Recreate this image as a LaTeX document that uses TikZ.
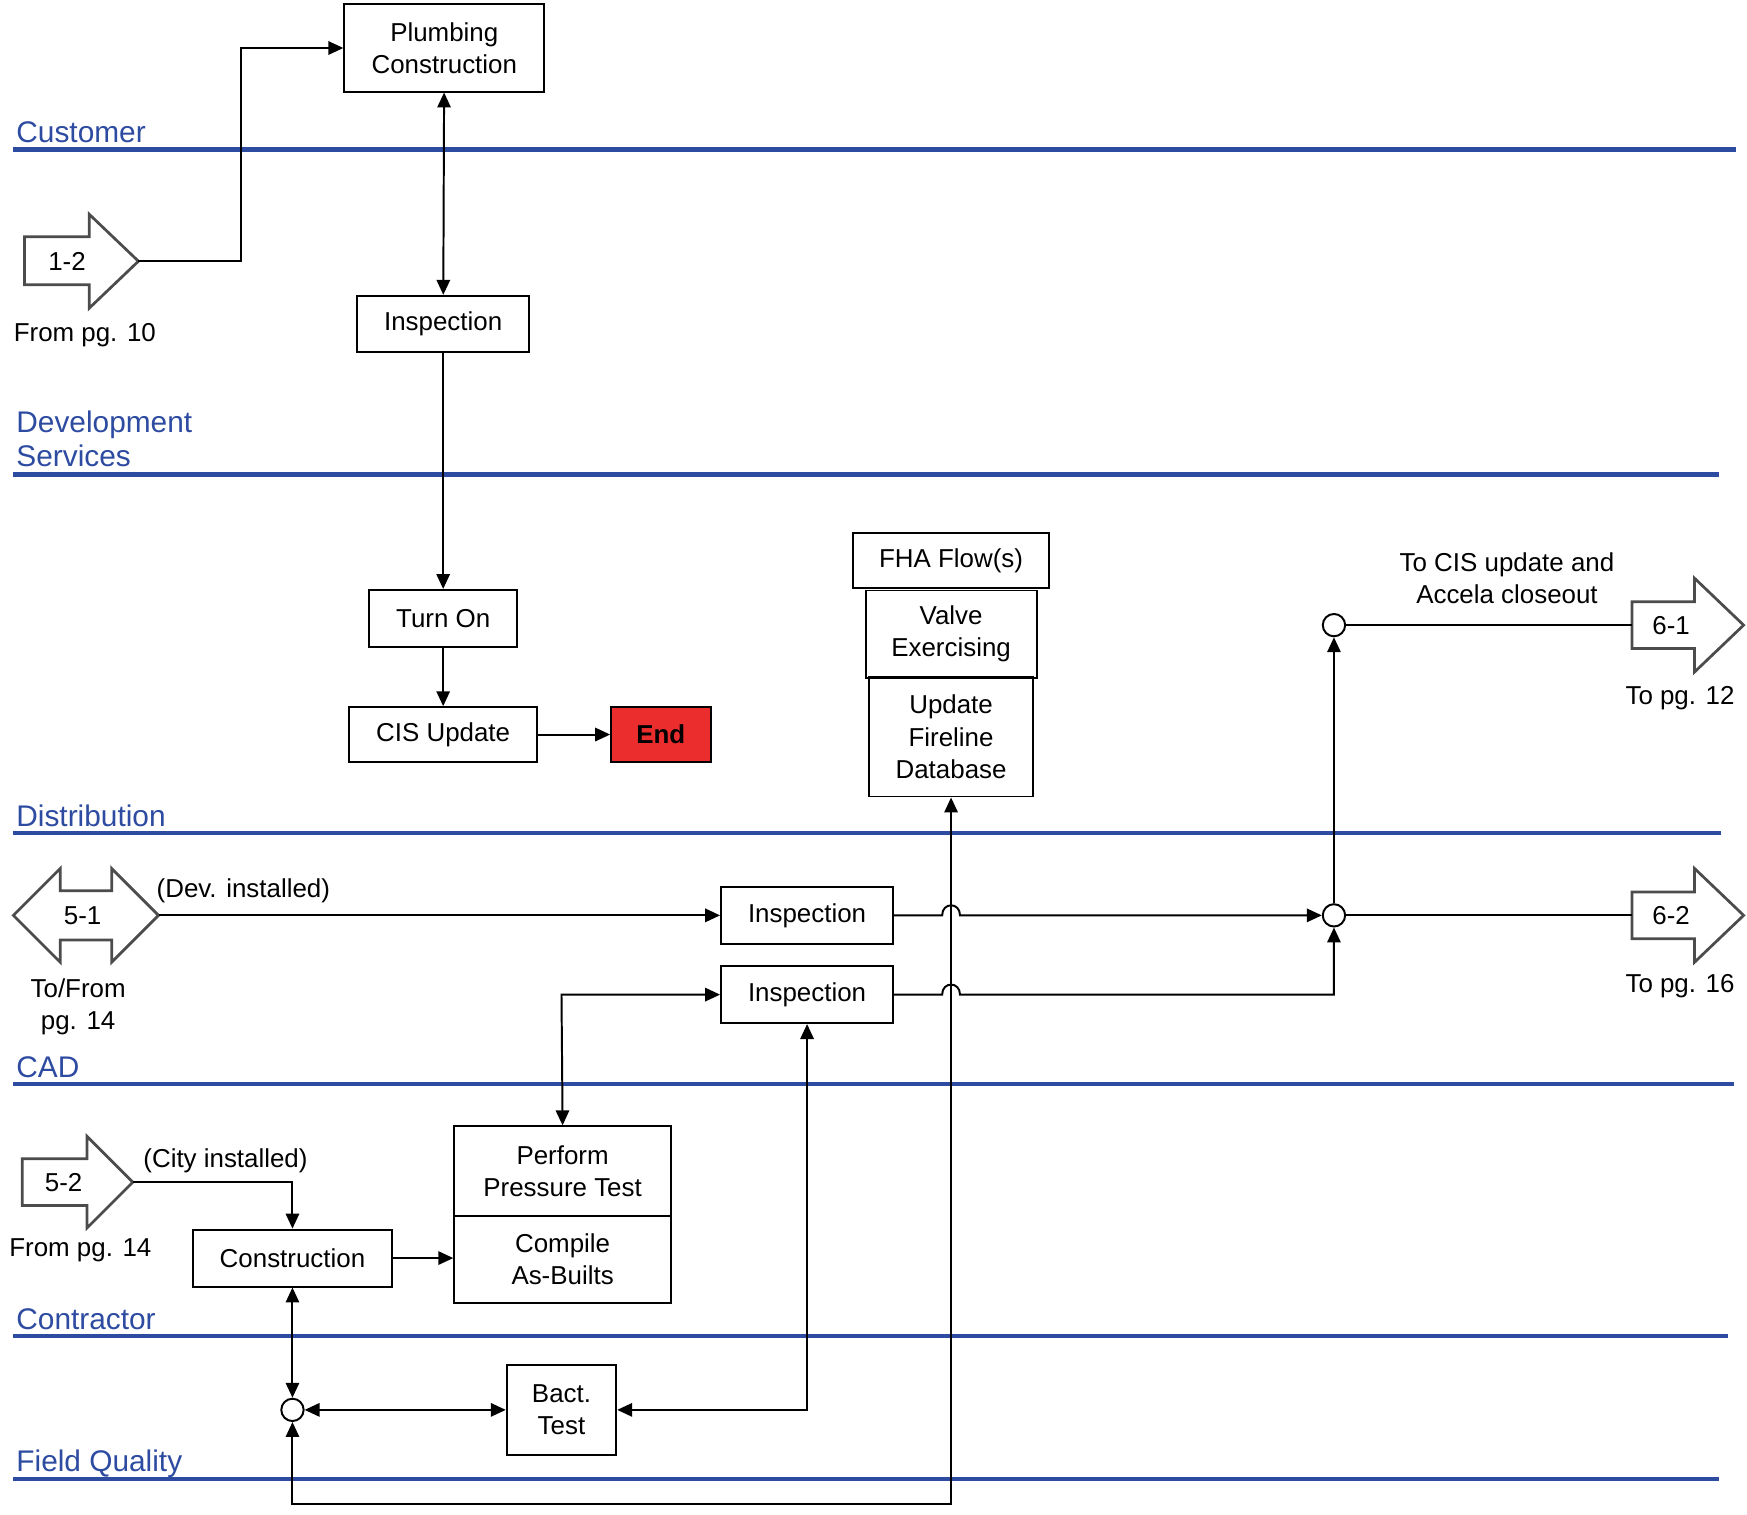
\documentclass[tikz,border=0pt]{standalone}
\usepackage{fontspec}
\setmainfont{Liberation Sans}
\usetikzlibrary{arrows.meta}
\definecolor{laneblue}{RGB}{45,75,160}
\definecolor{endred}{RGB}{235,45,45}
\tikzset{
  box/.style={draw, line width=0.5pt, inner sep=0pt, align=center, font=\fontsize{6.6}{8.2}\selectfont},
  lane/.style={draw=laneblue, line width=1.1pt},
  lanetext/.style={text=laneblue, anchor=base west, inner sep=0pt, align=left, font=\fontsize{7.6}{8.8}\selectfont},
  note/.style={inner sep=0pt, align=center, font=\fontsize{6.6}{8.2}\selectfont},
  flow/.style={line width=0.5pt, -{Triangle[length=3.8pt,width=3.4pt]}},
  both/.style={line width=0.5pt, {Triangle[length=3.8pt,width=3.4pt]}-{Triangle[length=3.8pt,width=3.4pt]}},
  page/.style={draw=black!70, line width=0.7pt, fill=white},
  dot/.style={draw, circle, fill=white, line width=0.5pt, minimum size=0.2cm, inner sep=0pt}
}
\begin{document}
\begin{tikzpicture}[x=0.01cm, y=-0.01cm]
\useasboundingbox (0,0) rectangle (1565,1357);
% swim lanes
\node[lanetext] (lcust) at (14,128) {Customer};
\path[lane] (12,134) -- (1555,134);
\node[lanetext] (ldev) at (14,418) {Development\\Services};
\path[lane] (12,425) -- (1540,425);
\node[lanetext] (ldist) at (14,740) {Distribution};
\path[lane] (12,746) -- (1542,746);
\node[lanetext] (lcad) at (14,965) {CAD};
\path[lane] (12,971) -- (1553,971);
\node[lanetext] (lcon) at (14,1191) {Contractor};
\path[lane] (12,1197) -- (1548,1197);
\node[lanetext] (lfq) at (14,1318) {Field Quality};
\path[lane] (12,1325) -- (1540,1325);
% off-page arrows
\path[page] (22,212) -- (80,212) -- (80,192) -- (124,234) -- (80,276) -- (80,255) -- (22,255) -- cycle;
\coordinate (p12) at (124,234);
\node[note] (t12) at (60,234) {1-2};
\node[note] (f12) at (76,300) {From pg. 10};
\path[page] (12,820) -- (54,778) -- (54,798) -- (100,798) -- (100,778) -- (142,820) -- (100,862) -- (100,842) -- (54,842) -- (54,862) -- cycle;
\coordinate (p51) at (142,820);
\node[note] (t51) at (74,820) {5-1};
\node[note] (f51) at (70,902) {To/From\\pg. 14};
\node[note] (d51) at (218,798) {(Dev. installed)};
\path[page] (20,1038) -- (78,1038) -- (78,1018) -- (119,1059) -- (78,1100) -- (78,1080) -- (20,1080) -- cycle;
\coordinate (p52) at (119,1059);
\node[note] (t52) at (57,1059) {5-2};
\node[note] (f52) at (72,1120) {From pg. 14};
\node[note] (c52) at (202,1040) {(City installed)};
\path[page] (1462,539) -- (1518,539) -- (1518,518) -- (1562,560) -- (1518,602) -- (1518,581) -- (1462,581) -- cycle;
\coordinate (p61) at (1462,560);
\node[note] (t61) at (1497,560) {6-1};
\node[note] (f61) at (1505,625) {To pg. 12};
\node[note] (c61) at (1350,518) {To CIS  update and\\Accela closeout};
\path[page] (1462,799) -- (1518,799) -- (1518,778) -- (1562,820) -- (1518,862) -- (1518,841) -- (1462,841) -- cycle;
\coordinate (p62) at (1462,820);
\node[note] (t62) at (1497,820) {6-2};
\node[note] (f62) at (1505,883) {To pg. 16};
% boxes
\node[box, minimum width=1.79cm, minimum height=0.78cm] (plumb) at (398,43) {Plumbing\\Construction};
\node[box, minimum width=1.54cm, minimum height=0.5cm] (insp1) at (397,290) {Inspection};
\node[box, minimum width=1.32cm, minimum height=0.51cm] (turnon) at (397,554) {Turn On};
\node[box, minimum width=1.68cm, minimum height=0.49cm] (cis) at (397,658) {CIS  Update};
\node[box, fill=endred, minimum width=0.89cm, minimum height=0.49cm, font=\fontsize{6.6}{8.2}\selectfont\bfseries] (end) at (592,658) {End};
\node[box, minimum width=1.76cm, minimum height=0.49cm] (fha) at (852,502) {FHA Flow(s)};
\node[box, minimum width=1.53cm, minimum height=0.78cm] (valve) at (852,568) {Valve\\Exercising};
\node[box, minimum width=1.47cm, minimum height=1.07cm] (fire) at (852,660) {Update\\Fireline\\Database};
\node[box, minimum width=1.54cm, minimum height=0.51cm] (insp2) at (723,820) {Inspection};
\node[box, minimum width=1.54cm, minimum height=0.51cm] (insp3) at (723,891) {Inspection};
\node[box, minimum width=1.94cm, minimum height=0.8cm] (press) at (504,1049) {Perform\\Pressure Test};
\node[box, minimum width=1.94cm, minimum height=0.78cm] (asb) at (504,1128) {Compile\\As-Builts};
\node[box, minimum width=1.78cm, minimum height=0.51cm] (constr) at (262,1127) {Construction};
\node[box, minimum width=0.98cm, minimum height=0.8cm] (bact) at (503,1263) {Bact.\\Test};
% junctions
\node[dot] (j61) at (1195,560) {};
\node[dot] (j62) at (1195,820) {};
\node[dot] (jfq) at (262,1263) {};
% connectors
\draw[flow] (p12) -- (216,234) |- (plumb.west);
\draw[both] (plumb) -- (insp1);
\draw[flow] (insp1) -- (turnon);
\draw[flow] (turnon) -- (cis);
\draw[flow] (cis) -- (end);
\draw[flow] (p51) -- (insp2);
\draw[flow] (insp2) -- (844,820) .. controls (844,808) and (860,808) .. (860,820) -- (j62);
\draw[flow] (insp3) -- (844,891) .. controls (844,879) and (860,879) .. (860,891) -- (1195,891) -- (j62);
\draw[flow] (j62) -- (j61);
\draw[line width=0.5pt] (j61) -- (p61);
\draw[line width=0.5pt] (j62) -- (p62);
\draw[both] (insp3.west) -- (503,891) -- (press.north);
\draw[flow] (p52) -- (262,1059) -- (constr.north);
\draw[flow] (constr) -- (asb.west |- constr);
\draw[both] (constr) -- (jfq);
\draw[both] (jfq) -- (bact);
\draw[both] (bact) -- (723,1263) -- (insp3.south);
\draw[both] (jfq) -- (262,1347) -- (852,1347) -- (fire.south);
\end{tikzpicture}
\end{document}
